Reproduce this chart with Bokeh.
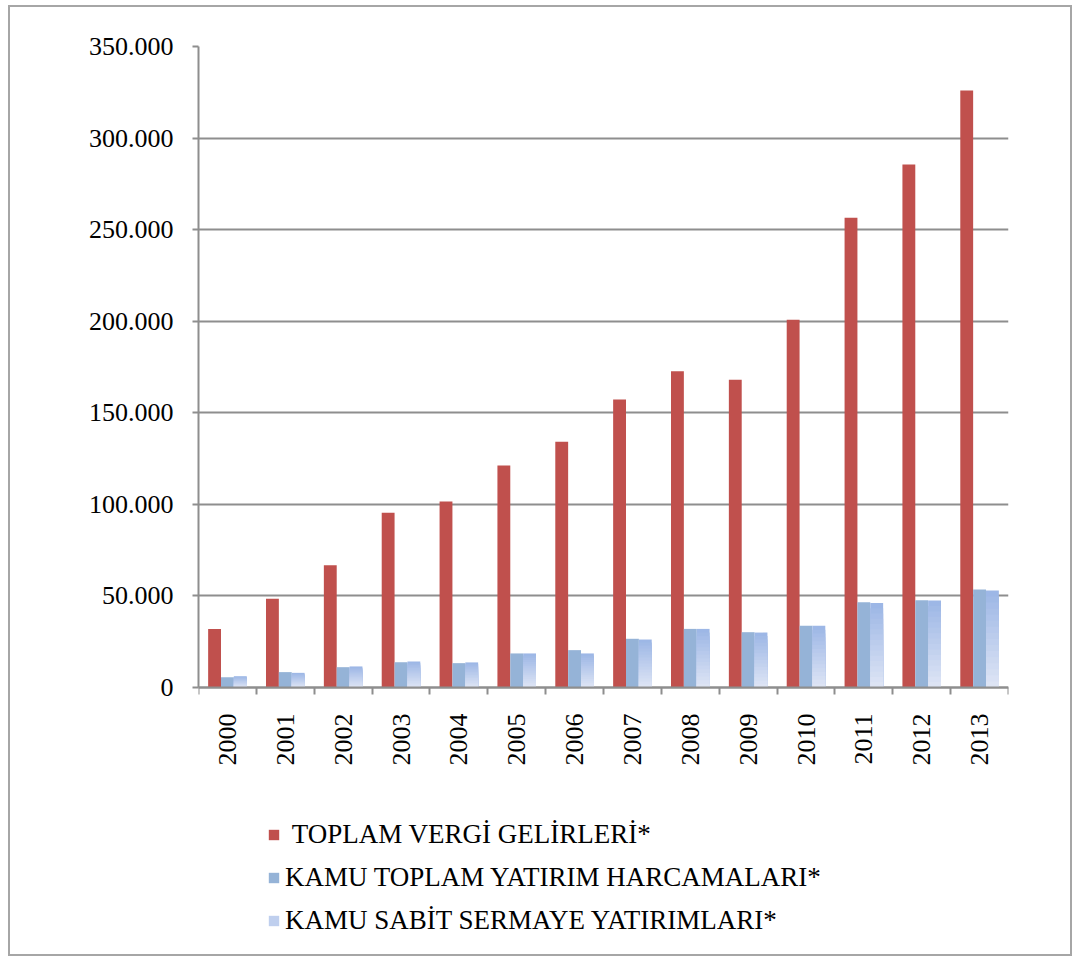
import math
from bokeh.plotting import figure
from bokeh.models import Range1d, FixedTicker, Legend, LegendItem
from bokeh.embed import file_html
from bokeh.resources import INLINE

years = ["2000", "2001", "2002", "2003", "2004", "2005", "2006",
         "2007", "2008", "2009", "2010", "2011", "2012", "2013"]
vergi = [31900, 48400, 66800, 95400, 101600, 121200, 134200,
         157300, 172700, 168000, 200800, 256500, 285600, 326000]
toplam_yatirim = [5600, 8400, 11100, 13800, 13300, 18600, 20400,
                  26600, 32000, 30200, 33700, 46600, 47700, 53500]
sabit_yatirim = [6200, 8000, 11500, 14200, 13700, 18600, 18600,
                 26200, 32000, 30000, 33700, 46200, 47500, 53000]
y_ticks = [0, 50000, 100000, 150000, 200000, 250000, 300000, 350000]
y_tick_labels = ["0", "50.000", "100.000", "150.000", "200.000",
                 "250.000", "300.000", "350.000"]
series_names = ["\u00a0TOPLAM VERG\u0130 GEL\u0130RLER\u0130*",
                "KAMU TOPLAM YATIRIM HARCAMALARI*",
                "KAMU SAB\u0130T SERMAYE YATIRIMLARI*"]

FONT = "Liberation Serif"
GRAY = "#8e8e8e"
RED = "#c0504d"
BLUE = "#95b3d7"

n = len(years)
xc = list(range(n))
w = 1 / 4.5

# plot area: value axis 0..350000 occupies 641 px; frame extends below 0 to hold labels + legend
FRAME_H = 899
Y_TOP = 350000
Y_BOTTOM = -Y_TOP * (FRAME_H - 641) / 641

p = figure(width=1064, height=951, output_backend="svg", toolbar_location=None,
           x_range=Range1d(-0.5, n - 0.5), y_range=Range1d(Y_BOTTOM, Y_TOP),
           min_border_left=188, min_border_right=66, min_border_top=39,
           min_border_bottom=951 - 39 - FRAME_H, margin=(5, 0, 0, 8),
           styles={"border": "2px solid #a6a6a6"})
p.outline_line_color = None
p.background_fill_color = "white"
p.border_fill_color = "white"

r_red = p.vbar(x=[x - w for x in xc], top=vergi, width=w, bottom=0,
               fill_color=RED, line_color=None)
r_b1 = p.vbar(x=xc, top=toplam_yatirim, width=w, bottom=0,
              fill_color=BLUE, line_color=None)

# gradient for third series: stacked overlapping bars from data, lighter toward bottom
N = 16
top_rgb = (0x9b, 0xb5, 0xe5)
bot_rgb = (0xdf, 0xe6, 0xf5)
grad_renderers = []
for k in range(N):
    t = (k + 0.5) / N
    c = tuple(int(round(top_rgb[i] + (bot_rgb[i] - top_rgb[i]) * t)) for i in range(3))
    col = "#%02x%02x%02x" % c
    frac = 1 - k / N
    r = p.vbar(x=[x + w for x in xc], top=[v * frac for v in sabit_yatirim],
               width=w, bottom=0, fill_color=col, line_color=None)
    grad_renderers.append(r)

# axes
xa = p.xaxis[0]
xa.fixed_location = 0
xa.ticker = FixedTicker(ticks=xc, minor_ticks=[x - 0.5 for x in range(n + 1)])
xa.major_label_overrides = {i: years[i] for i in xc}
xa.major_tick_line_color = None
xa.major_tick_out = 7
xa.major_tick_in = 0
xa.minor_tick_out = 7
xa.minor_tick_in = 0
xa.minor_tick_line_color = GRAY
xa.minor_tick_line_width = 2
xa.axis_line_color = GRAY
xa.axis_line_width = 2
xa.major_label_orientation = math.pi / 2
xa.major_label_standoff = 19
xa.major_label_text_font = FONT
xa.major_label_text_font_size = "26px"
xa.major_label_text_color = "black"

ya = p.yaxis[0]
ya.bounds = (0, Y_TOP)
ya.ticker = FixedTicker(ticks=y_ticks, minor_ticks=[])
ya.major_label_overrides = {y_ticks[i]: y_tick_labels[i] for i in range(len(y_ticks))}
ya.major_tick_out = 6
ya.major_tick_in = 0
ya.major_tick_line_color = GRAY
ya.major_tick_line_width = 2
ya.axis_line_color = GRAY
ya.axis_line_width = 2
ya.major_label_standoff = 19
ya.major_label_text_font = FONT
ya.major_label_text_font_size = "26px"
ya.major_label_text_color = "black"

p.xgrid.grid_line_color = None
p.ygrid.ticker = FixedTicker(ticks=y_ticks)
p.ygrid.grid_line_color = GRAY
p.ygrid.grid_line_width = 2

legend = Legend(items=[
    LegendItem(label=series_names[0], renderers=[r_red]),
    LegendItem(label=series_names[1], renderers=[r_b1]),
    LegendItem(label=series_names[2], renderers=[grad_renderers[N // 2]]),
], location=(69, 9), orientation="vertical")
legend.glyph_width = 13
legend.glyph_height = 13
legend.label_standoff = 5
legend.spacing = 12
legend.padding = 0
legend.margin = 0
legend.border_line_color = None
legend.background_fill_alpha = 0
legend.label_text_font = FONT
legend.label_text_font_size = "27px"
legend.label_text_color = "black"
p.add_layout(legend)

open("out.html", "w").write(file_html(p, INLINE))
